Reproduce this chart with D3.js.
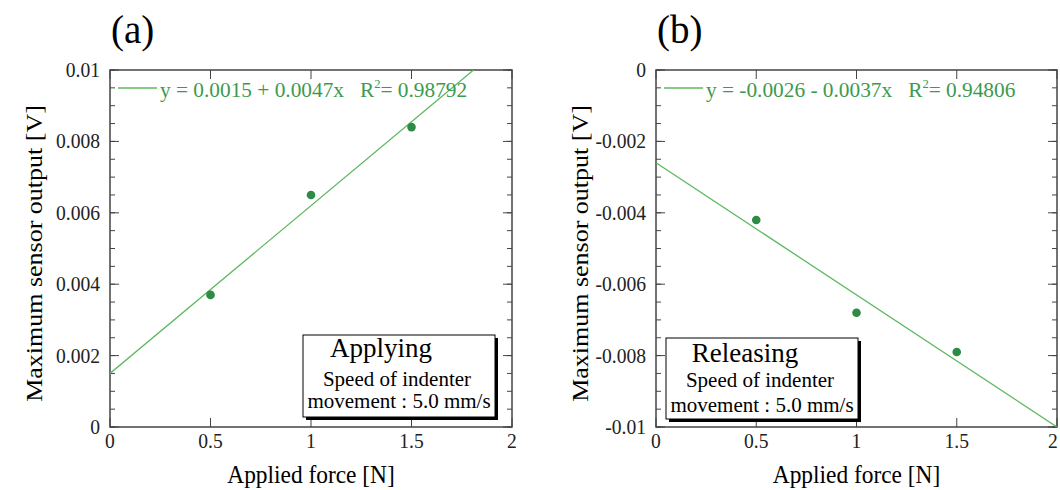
<!DOCTYPE html>
<html>
<head>
<meta charset="utf-8">
<script src="https://cdn.jsdelivr.net/npm/d3@7"></script>
<style>
    body { margin: 0; background: #fff; }
    text { font-family: "Liberation Serif", "Times New Roman", Times, "DejaVu Serif", serif; }
</style>
</head>
<body>
<svg id="chart" width="1060" height="490"></svg>
<script>

// data
const forces = [0.5, 1.0, 1.5];
const applyingOutput = [0.0037, 0.0065, 0.0084];
const releasingOutput = [-0.0042, -0.0068, -0.0079];

// fitted lines: y = a + b*x
const applyingFit = [0.0015, 0.0047];
const releasingFit = [-0.0026, -0.0037];

const xTicks = [0, 0.5, 1, 1.5, 2];
const applyingYTicks = [0, 0.002, 0.004, 0.006, 0.008, 0.01];
const releasingYTicks = [-0.01, -0.008, -0.006, -0.004, -0.002, 0];

const applyingLegend = ['y = 0.0015 + 0.0047x   R', '= 0.98792'];
const releasingLegend = ['y = -0.0026 - 0.0037x   R', '= 0.94806'];

const svg = d3.select('#chart');

// text that is squeezed a bit sideways, like the scanned figure
function addText(g, x, y, str, size, anchor, sx) {
    return g.append('text')
        .attr('transform', 'translate(' + x + ',' + y + ') scale(' + (sx || 1) + ',1)')
        .attr('text-anchor', anchor || 'start')
        .style('font-size', size + 'px')
        .text(str);
}

function drawPanel(cfg) {

    const g = svg.append('g').attr('id', cfg.id);
    const x = d3.scaleLinear().domain([0, 2]).range([cfg.left, cfg.right]);
    const y = d3.scaleLinear().domain(cfg.yDomain).range([cfg.bottom, cfg.top]);
    const axisColor = '#444';

    // clip for the fit line
    svg.append('defs').append('clipPath')
        .attr('id', 'clip' + cfg.id)
        .append('rect')
        .attr('x', cfg.left).attr('y', cfg.top)
        .attr('width', cfg.right - cfg.left)
        .attr('height', cfg.bottom - cfg.top);

    // minor y ticks every 0.0005
    const minor = d3.range(cfg.yDomain[0], cfg.yDomain[1] + 1e-9, 0.0005);

    [[cfg.left, 1], [cfg.right, -1]].forEach(function(side) {
        g.append('g').selectAll('line')
            .data(minor)
            .enter().append('line')
            .attr('x1', side[0]).attr('x2', side[0] + side[1] * 5)
            .attr('y1', function(d) {return y(d); })
            .attr('y2', function(d) {return y(d); })
            .style('stroke', axisColor).style('stroke-width', 1);
        g.append('g').selectAll('line')
            .data(cfg.yTicks)
            .enter().append('line')
            .attr('x1', side[0]).attr('x2', side[0] + side[1] * 9)
            .attr('y1', function(d) {return y(d); })
            .attr('y2', function(d) {return y(d); })
            .style('stroke', axisColor).style('stroke-width', 1);
    });

    [[cfg.bottom, -1], [cfg.top, 1]].forEach(function(side) {
        g.append('g').selectAll('line')
            .data(xTicks)
            .enter().append('line')
            .attr('x1', function(d) {return x(d); })
            .attr('x2', function(d) {return x(d); })
            .attr('y1', side[0]).attr('y2', side[0] + side[1] * 9)
            .style('stroke', axisColor).style('stroke-width', 1);
    });

    g.append('rect')
        .attr('x', cfg.left).attr('y', cfg.top)
        .attr('width', cfg.right - cfg.left)
        .attr('height', cfg.bottom - cfg.top)
        .style('fill', 'none')
        .style('stroke', axisColor)
        .style('stroke-width', 1.5);

    // tick labels (the last one is kept inside the window)
    xTicks.forEach(function(d) {
        addText(g, Math.min(x(d), 1053), cfg.bottom + 21, d, 22, 'middle', 0.89).style('fill', '#222');
    });
    cfg.yTicks.forEach(function(d) {
        addText(g, cfg.left - 10, y(d) + 7, d, 22, 'end', 0.89).style('fill', '#222');
    });

    // axis titles
    addText(g, (cfg.left + cfg.right) / 2, cfg.bottom + 56, 'Applied force [N]', 26, 'middle', 0.9);

    g.append('text')
        .attr('transform', 'translate(' + (cfg.left - 68) + ',' + ((cfg.top + cfg.bottom) / 2 + 5) + ') rotate(-90) scale(1,0.9)')
        .attr('text-anchor', 'middle')
        .style('font-size', '26px')
        .text('Maximum sensor output [V]');

    // panel letter
    addText(g, cfg.left + 1, 43, cfg.letter, 39, 'start', 1);

    // fit line
    g.append('line')
        .attr('clip-path', 'url(#clip' + cfg.id + ')')
        .attr('x1', x(0)).attr('y1', y(cfg.fit[0]))
        .attr('x2', x(2)).attr('y2', y(cfg.fit[0] + cfg.fit[1] * 2))
        .style('stroke', '#5cb85f')
        .style('stroke-width', 1.3);

    // data points
    g.selectAll('circle')
        .data(d3.range(forces.length))
        .enter().append('circle')
        .attr('cx', function(i) {return x(forces[i]); })
        .attr('cy', function(i) {return y(cfg.values[i]); })
        .attr('r', 4.3)
        .style('fill', '#2e8b45');

    // legend
    g.append('line')
        .attr('x1', cfg.left + 8).attr('x2', cfg.left + 47)
        .attr('y1', cfg.top + 18).attr('y2', cfg.top + 18)
        .style('stroke', '#5cb85f')
        .style('stroke-width', 1.3);

    const leg = g.append('text')
        .attr('transform', 'translate(' + (cfg.left + 50) + ',' + (cfg.top + 27) + ') scale(0.97,1)')
        .style('font-size', '22px')
        .style('fill', '#3c9a4e')
        .attr('xml:space', 'preserve');
    leg.append('tspan').text(cfg.legend[0]);
    leg.append('tspan').attr('dy', -9).style('font-size', '13px').text('2');
    leg.append('tspan').attr('dy', 9).text(cfg.legend[1]);

    // annotation box with shadow
    const b = cfg.box;
    g.append('rect')
        .attr('x', b.x + 3).attr('y', b.y + 3)
        .attr('width', b.w).attr('height', b.h)
        .style('fill', '#000');
    g.append('rect')
        .attr('x', b.x).attr('y', b.y)
        .attr('width', b.w).attr('height', b.h)
        .style('fill', '#fff')
        .style('stroke', '#000')
        .style('stroke-width', 1);

    addText(g, b.titleX, b.y + b.t1, cfg.boxTitle, 27, 'middle', 1);
    addText(g, b.x + b.w / 2 + b.dx, b.y + b.t2, 'Speed of indenter', 21, 'middle', 1);
    addText(g, b.x + b.w / 2, b.y + b.t3, 'movement : 5.0 mm/s', 21, 'middle', 1);
}

drawPanel({
    id: 'a', letter: '(a)',
    left: 110, right: 512, top: 70, bottom: 427,
    yDomain: [0, 0.01], yTicks: applyingYTicks,
    values: applyingOutput, fit: applyingFit, legend: applyingLegend,
    boxTitle: 'Applying',
    box: {x: 303, y: 335, w: 192, h: 82, titleX: 381, dx: -2, t1: 22, t2: 51, t3: 73}
});

drawPanel({
    id: 'b', letter: '(b)',
    left: 656, right: 1057, top: 70, bottom: 427,
    yDomain: [-0.01, 0], yTicks: releasingYTicks,
    values: releasingOutput, fit: releasingFit, legend: releasingLegend,
    boxTitle: 'Releasing',
    box: {x: 666, y: 338, w: 192, h: 81, titleX: 745, dx: -2, t1: 24, t2: 49, t3: 74}
});

</script>
</body>
</html>
